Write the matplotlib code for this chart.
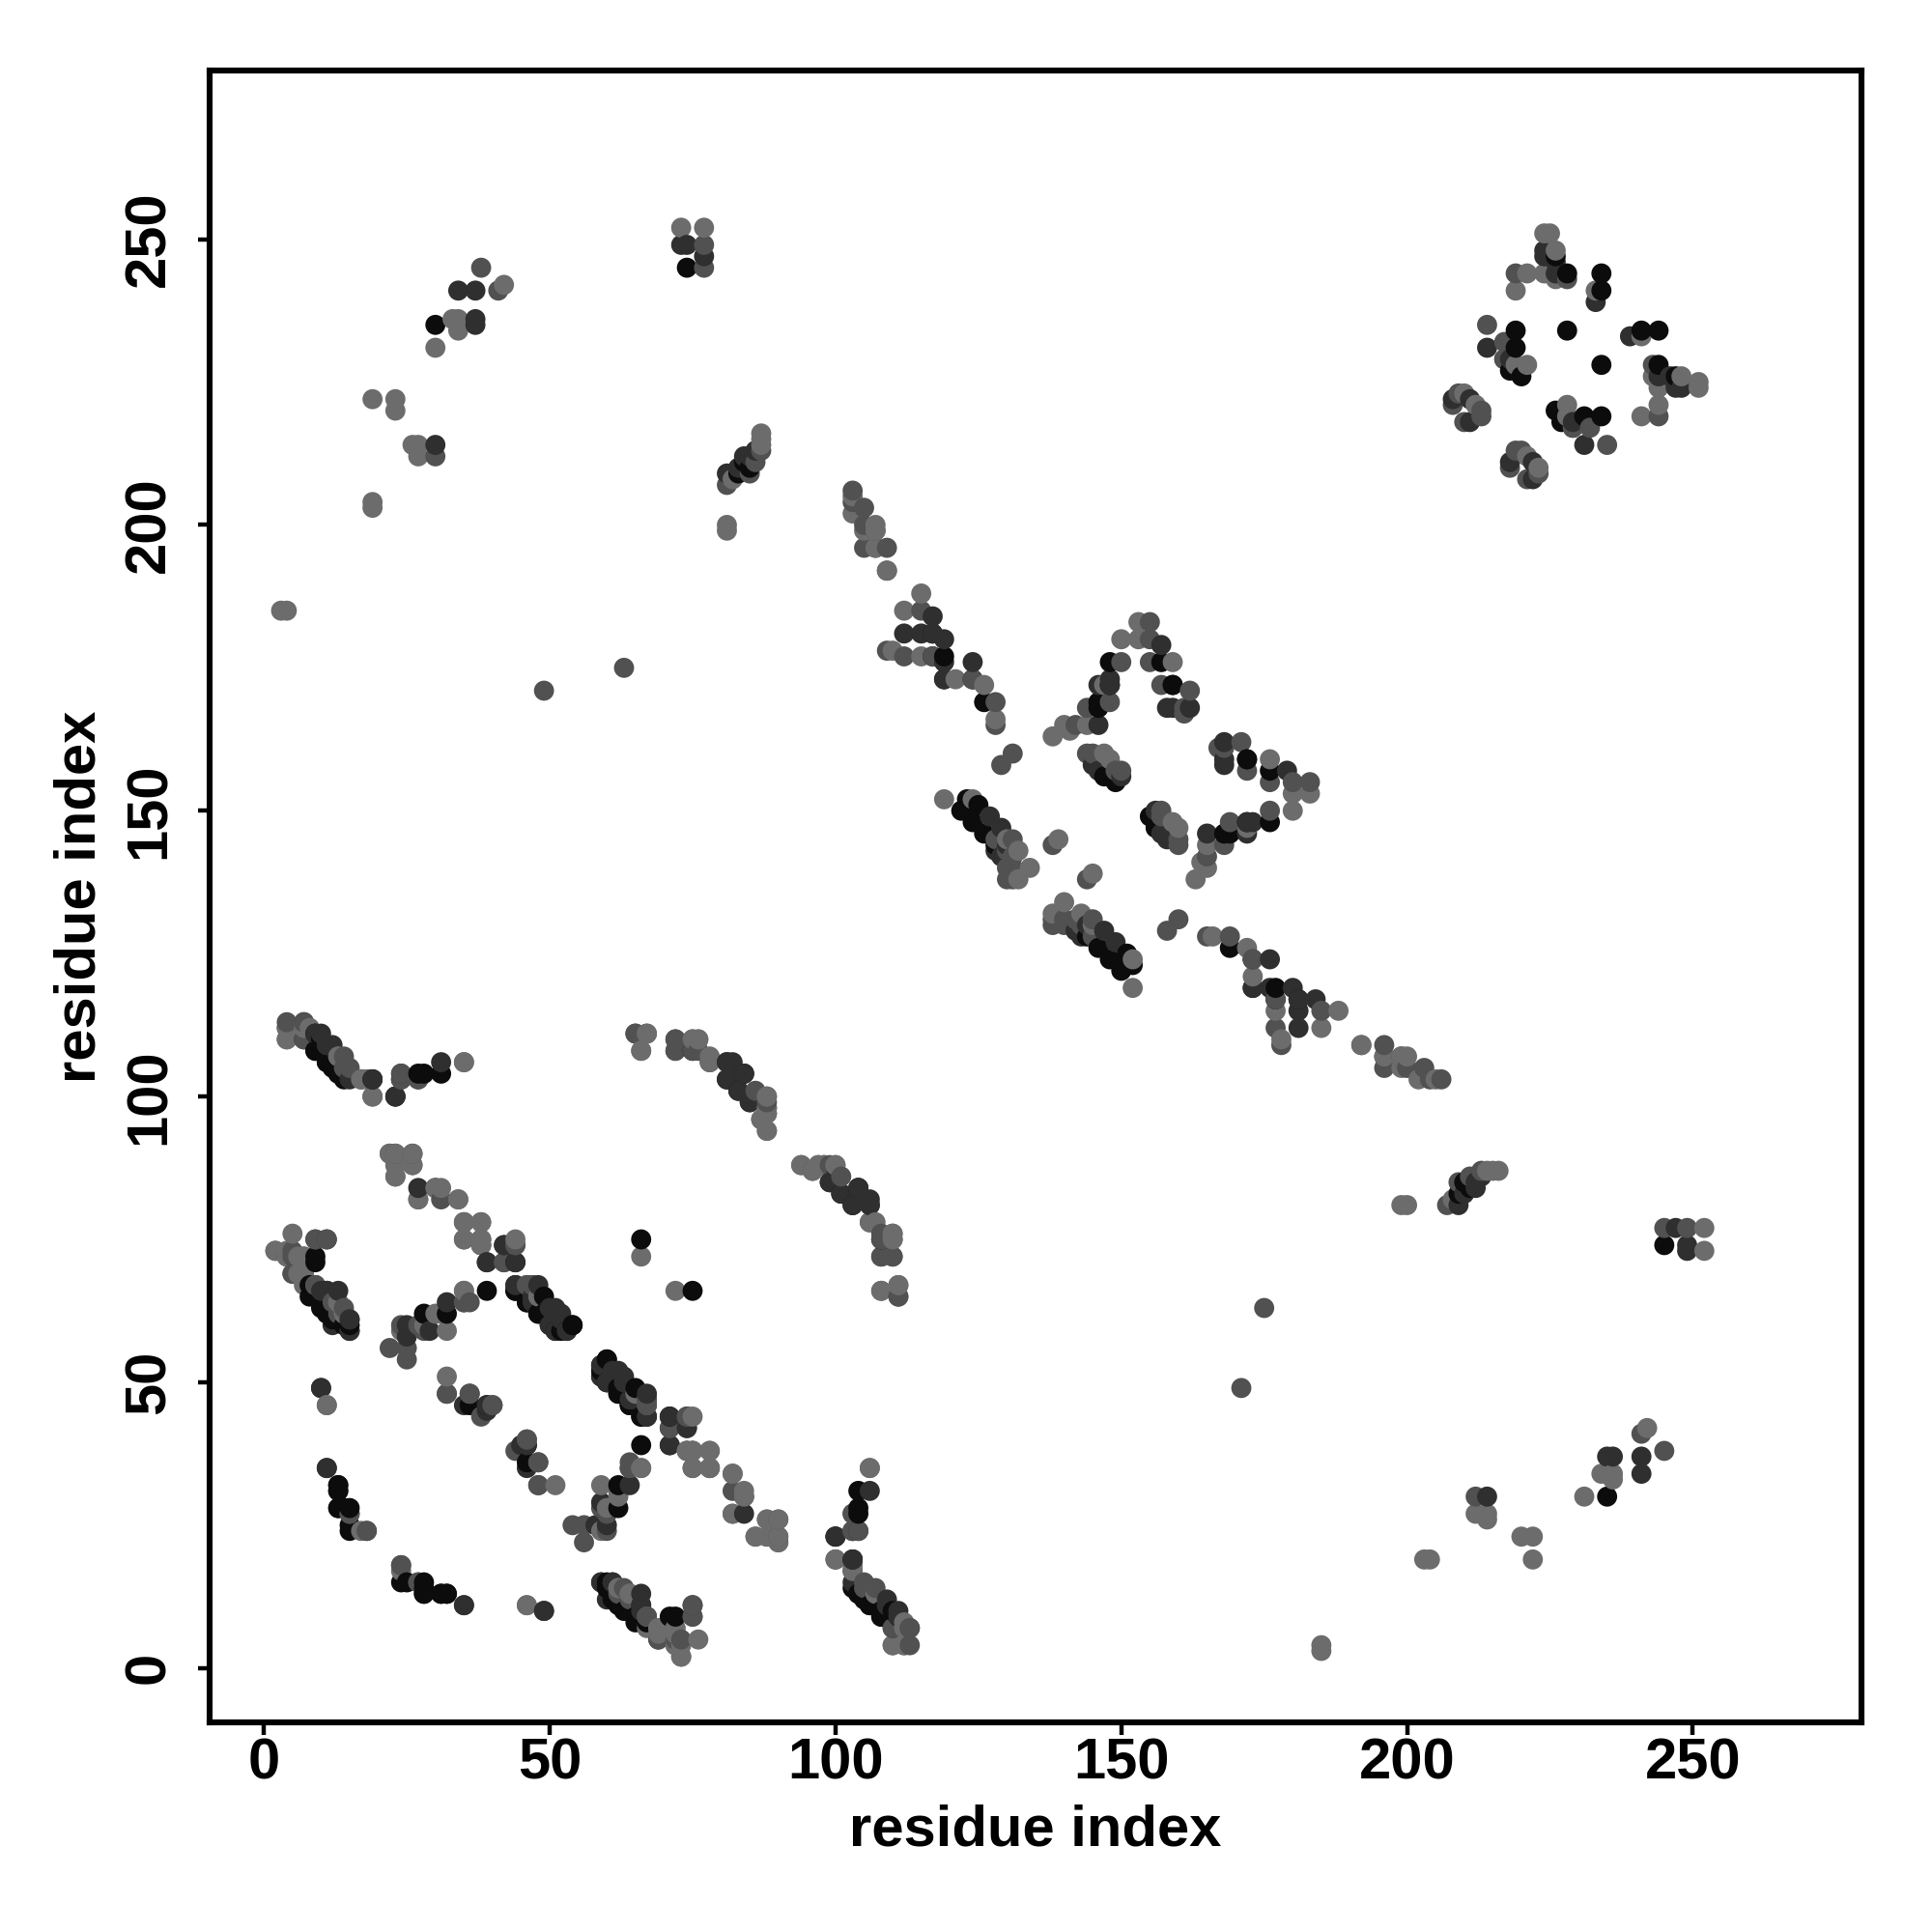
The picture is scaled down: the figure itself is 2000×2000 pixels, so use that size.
import matplotlib
matplotlib.use('Agg')
import numpy as np
import matplotlib.pyplot as plt

plt.rcParams['font.family'] = ['Liberation Sans', 'DejaVu Sans']
plt.rcParams['font.weight'] = 'bold'

# residue contacts, i < j, the map is symmetric so each is drawn twice
black = [(9,72),(9,71),(8,67),(8,65),(10,63),(12,61),(14,60),(15,60),(9,111),(9,108),(11,106),(13,104),
         (9,65),(10,64),(11,62),(13,61),(10,110),(10,108),(12,105),
         (13,32),(13,31),(13,28),(15,28),(15,24),(15,25),(28,14),(28,13),(31,13),(32,13),
         (27,104),(28,104),(31,104),(32,62),(28,62),(39,66),(44,71),(44,67),(44,66),(46,64),(49,65),(49,62),
         (48,62),(51,59),(53,59),(54,60),(39,46),(36,46),(66,75),(62,48),(64,46),(66,44),(75,108),
         (59,52),(60,54),(62,49),(60,50),(81,103),(84,104),(83,101),(103,14),(104,13),(106,11),(108,9),
         (30,235),(74,245),(84,211),(85,210),(83,209),
         (123,152),(123,150),(125,151),(124,148),(126,146),(128,144),(122,150),(126,169),(146,168),(146,169),
         (148,172),(148,176),(157,176),(159,172),(147,156),(149,155),(117,177),(119,177),(117,181),
         (172,159),(119,173),
         (219,234),(228,234),(234,244),(234,241),(219,231),(218,227),(220,226),(226,247),(228,244)]
dark = [(10,66),(11,66),(12,60),(15,59),(15,61),(11,75),(10,49),(11,35),(11,109),(12,109),(10,111),(15,103),(19,103),
        (25,60),(25,58),(29,59),(28,60),(27,84),(30,84),(39,71),(42,74),(35,46),(39,45),(39,46),(32,64),(48,67),
        (51,63),(52,61),(50,60),(35,11),(49,10),(59,51),(59,53),(62,52),(63,50),(64,47),(67,44),(65,47),(71,39),
        (71,44),(74,42),(31,106),(24,104),(23,100),(19,103),(24,103),(13,66),
        (81,106),(82,106),(84,104),(85,99),(86,100),(99,85),(101,83),(103,81),(104,84),(106,81),(105,82),
        (23,100),(100,23),(103,19),(109,11),(111,9),(110,7),(61,15),(59,15),(66,11),(30,214),(37,236),(37,241),
        (34,241),(37,235),(74,249),(73,249),(77,247),(81,209),(83,210),(85,212),(86,213),(84,212),
        (117,184),(117,181),(119,180),(119,176),(124,176),(124,173),(127,149),(129,147),(129,142),(128,143),
        (130,144),(146,165),(146,172),(147,172),(148,173),(157,179),(159,168),(145,158),(146,157),(150,156),
        (148,172),(158,168),(162,168),(115,181),(112,181),(119,173),
        (226,244),(226,246),(224,248),(224,247),(233,239),(214,231),(218,229),(229,217),(208,222),(211,222),(211,218)]
mid = [(9,75),(11,75),(5,73),(5,69),(9,67),(12,64),(14,63),(13,62),(22,56),(25,56),(25,54),(24,60),(27,60),
       (28,59),(35,64),(36,64),(46,67),(47,67),(31,82),(35,75),(38,74),(44,74),(42,71),(32,48),(36,48),(40,46),
       (38,44),(46,40),(36,48),(32,48),(24,18),(18,24),(27,15),(15,27),(9,67),(67,47),(67,46),(74,44),(71,42),
       (35,64),(7,113),(7,110),(14,107),(15,105),(24,103),(27,103),(72,110),(72,108),(76,108),(65,111),
       (99,88),(101,86),(106,78),(108,75),(108,72),(110,75),(110,72),(111,65),(87,96),(90,26),(90,23),
       (4,113),(103,27),(103,24),(104,24),(103,17),(105,14),(107,13),(113,7),(100,19),(67,9),(75,9),(69,5),(72,5),(72,4),
       (63,175),(49,171),(30,212),(38,245),(41,241),(77,249),(77,245),(85,209),(86,211),(81,207),(87,213),
       (128,169),(124,173),(128,165),(131,160),(129,158),(138,144),(142,165),(144,168),(148,169),(150,176),(155,183),
       (155,180),(155,176),(157,172),(162,171),(161,167),(161,168),(145,160),(150,157),(149,157),(131,145),(130,143),
       (130,140),(130,138),(131,138),(131,140),(131,142),(128,145),
       (144,160),(173,124),(115,185),(112,177),(109,178),(117,177),(109,196),(109,192),(103,206),(105,203),
       (107,199),(103,204),(105,200),(107,196),(105,196),
       (219,244),(228,243),(217,232),(214,235),(217,229),(209,223),(213,220),(213,219),(210,218),(208,221)]
light = [(22,90),(23,90),(26,90),(26,88),(23,88),(23,86),(27,82),(31,84),(34,82),(35,78),(38,78),(38,75),(44,75),
         (5,76),(2,73),(4,73),(6,72),(7,69),(6,69),(7,67),(13,64),(24,59),(32,59),(31,62),(35,66),(48,65),(11,46),
         (32,51),(17,24),(14,62),(7,72),(28,60),(30,62),(66,72),(35,66),(38,75),(75,38),(38,74),(35,78),
         (4,112),(4,110),(8,112),(13,107),(17,103),(18,103),(19,100),(35,106),(67,111),(66,108),(75,110),(76,110),
         (78,106),(88,100),(88,98),(88,97),(88,94),(94,88),(96,87),(97,88),(98,88),(100,88),(107,78),(110,76),
         (108,66),(111,67),(82,34),(84,30),(74,38),(78,38),(75,35),(78,35),(82,27),(88,26),(86,23),(88,23),(90,22),
         (106,35),(112,7),(110,4),(112,4),(73,2),(72,7),(69,7),(4,72),(46,11),(64,13),(62,14),(3,185),(4,185),
         (19,222),(23,222),(23,220),(26,214),(27,214),(27,212),(19,204),(19,203),(30,231),(33,236),(34,236),(34,234),(42,242),
         (73,252),(77,252),(81,199),(81,200),(82,208),(87,214),(87,215),(87,216),
         (119,152),(121,173),(126,172),(128,166),(124,152),(130,145),(132,143),(134,140),(132,138),
         (138,163),(140,165),(141,164),(144,165),(147,172),(150,180),(153,180),(153,183),(159,176),(147,160),(148,159),
         (139,145),(115,177),(112,185),(115,188),(110,178),(103,202),(107,200),(103,205),
         (109,192),(107,196),(105,199),(107,199),
         (224,251),(225,251),(221,244),(224,244),(226,243),(219,241),(233,241),(226,248),(219,228),(221,228),(210,223),(212,221)]

group_list = [black, dark, mid, light]
grey_list = ['#0c0c0c', '#2f2f2f', '#515151', '#6c6c6c']

xs, ys, cols = [], [], []
for group, grey in zip(group_list, grey_list):
    for a, b in group:
        xs += [a, b]
        ys += [b, a]
        cols += [grey, grey]
xs = np.array(xs)
ys = np.array(ys)
cols = np.array(cols)
# later residues sit on top of earlier ones in the reference
order = np.lexsort((ys, xs))

fig = plt.figure(figsize=(10, 10), dpi=200)
ax = fig.add_axes([0.1085, 0.1085, 0.855, 0.855])

ax.scatter(xs[order], ys[order], s=56, c=list(cols[order]), linewidths=0, zorder=3)

ax.set_xlim(-9.5, 279.5)
ax.set_ylim(-9.5, 279.5)
ax.set_xticks(np.arange(0, 251, 50))
ax.set_yticks(np.arange(0, 251, 50))
ax.tick_params(axis='both', length=4.5, width=1.6, labelsize=21.5)
ax.tick_params(axis='x', pad=1)
ax.tick_params(axis='y', pad=8)
for lab in ax.get_yticklabels():
    lab.set_rotation(90)
    lab.set_va('center')
for side in ax.spines.values():
    side.set_linewidth(2.2)

ax.set_xlabel('residue index', fontsize=21.5, fontweight='bold', va='center')
ax.set_ylabel('residue index', fontsize=21.5, fontweight='bold', va='center')
ax.xaxis.set_label_coords(0.5, -0.0655)
ax.yaxis.set_label_coords(-0.0785, 0.5)

fig.savefig('out.png', dpi=200)
